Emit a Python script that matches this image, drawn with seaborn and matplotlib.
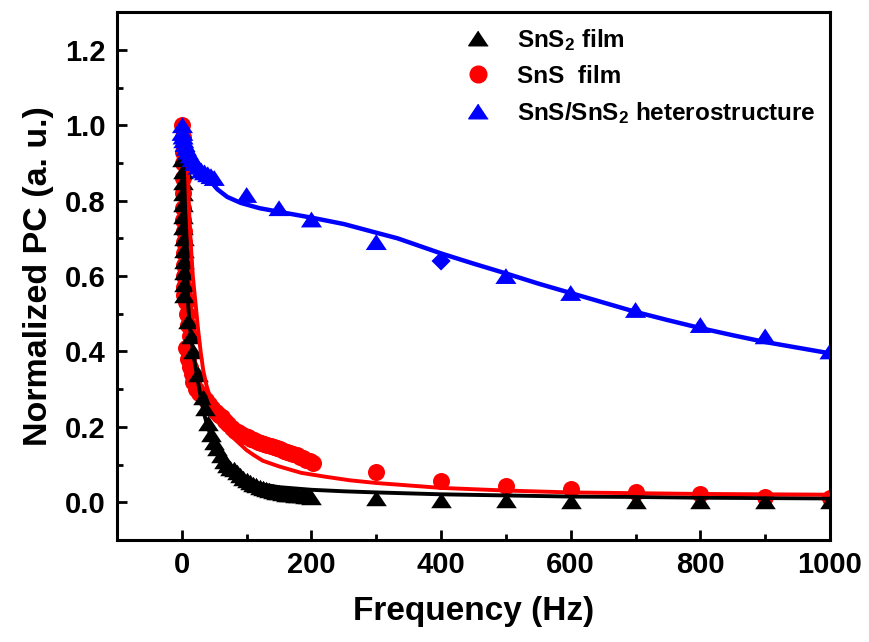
import matplotlib
matplotlib.use("Agg")
import matplotlib.pyplot as plt
import seaborn as sns
import pandas as pd
from matplotlib.lines import Line2D
from matplotlib.ticker import MultipleLocator

# ---------------- data ----------------
sns2_freq = [1.0, 1.25, 1.5, 1.75, 2.0, 2.25, 2.5, 2.75, 3.0, 3.25, 3.5, 3.75, 4.0,
             9, 14, 18, 25, 32, 35, 40, 45, 50, 55, 60, 65, 70, 75, 80, 85, 90, 95,
             100, 105, 110, 115, 120, 125, 130, 135, 140, 145, 150, 155, 160, 165,
             170, 175, 180, 185, 190, 195, 200,
             300, 400, 500, 600, 700, 800, 900, 1000]
sns2_val = [0.91, 0.88, 0.85, 0.82, 0.79, 0.76, 0.73, 0.70, 0.67, 0.64, 0.61, 0.58, 0.55,
            0.48, 0.44, 0.40, 0.34, 0.28, 0.25, 0.21, 0.18, 0.16, 0.145, 0.125, 0.11,
            0.10, 0.092, 0.088, 0.08, 0.072, 0.064,
            0.058, 0.053, 0.049, 0.045, 0.041, 0.038, 0.035, 0.032, 0.030, 0.028,
            0.026, 0.024, 0.023, 0.022, 0.021, 0.020, 0.019, 0.018, 0.017, 0.016, 0.015,
            0.010, 0.006, 0.005, 0.004, 0.003, 0.003, 0.002, 0.002]

sns_freq = [1.0, 1.2, 1.4, 1.6, 1.8, 2.0, 2.2, 2.4, 2.6, 2.8, 3.0, 3.2, 3.4, 3.6, 4.0,
            6, 8, 10, 12, 6, 9, 12, 15, 18, 22, 27, 32, 37, 42, 47, 52, 57, 62, 67,
            72, 77, 82, 87, 92, 97, 102, 107, 112, 117, 122, 127, 132, 137, 142, 147,
            152, 157, 162, 167, 172, 177, 182, 187, 192, 197, 202,
            300, 400, 500, 600, 700, 800, 900, 1000]
sns_val = [1.0, 0.97, 0.93, 0.90, 0.86, 0.82, 0.78, 0.75, 0.72, 0.69, 0.66, 0.63, 0.60, 0.57, 0.55,
           0.53, 0.50, 0.47, 0.44, 0.41, 0.38, 0.36, 0.34, 0.32, 0.30, 0.29, 0.28, 0.27, 0.26,
           0.25, 0.24, 0.232, 0.225, 0.216, 0.208, 0.198, 0.19, 0.185, 0.18, 0.176, 0.172,
           0.168, 0.164, 0.161, 0.158, 0.155, 0.152, 0.149, 0.146, 0.143, 0.140, 0.137,
           0.134, 0.131, 0.128, 0.125, 0.121, 0.117, 0.113, 0.109, 0.105,
           0.080, 0.057, 0.042, 0.034, 0.027, 0.021, 0.014, 0.012]

het_freq = [0.5, 1, 1.5, 2, 3, 5, 7, 10, 13, 16, 20, 25, 30, 35, 40, 45, 50,
            100, 150, 200, 300, 400, 500, 600, 700, 800, 900, 1000]
het_val = [0.98, 1.0, 0.98, 0.97, 0.96, 0.95, 0.94, 0.93, 0.92, 0.91, 0.90, 0.89, 0.88,
           0.875, 0.87, 0.865, 0.86, 0.815, 0.78, 0.75, 0.69, 0.64, 0.60, 0.555, 0.51,
           0.47, 0.44, 0.40]
het_shape = ["tri"] * 21 + ["dia"] + ["tri"] * 6

# fitted curves
fit_sns2_freq = [4, 5, 6, 7, 8, 9, 10, 12, 15, 18, 22, 26, 30, 35, 40, 45, 50, 60, 70, 80,
                 100, 125, 150, 200, 250, 300, 400, 500, 600, 700, 800, 900, 1000]
fit_sns2_val = [1.0, 0.9, 0.8, 0.72, 0.64, 0.57, 0.52, 0.47, 0.43, 0.39, 0.35, 0.31, 0.27,
                0.23, 0.20, 0.175, 0.155, 0.12, 0.095, 0.078, 0.058, 0.047, 0.040, 0.033,
                0.029, 0.026, 0.021, 0.018, 0.015, 0.014, 0.012, 0.011, 0.010]

fit_sns_freq = [7, 9, 11, 14, 17, 21, 25, 29, 33, 38, 45, 55, 65, 80, 100, 111, 125, 150,
                184, 220, 260, 300, 400, 500, 600, 700, 800, 900, 1000]
fit_sns_val = [1.0, 0.9, 0.78, 0.68, 0.60, 0.53, 0.46, 0.40, 0.35, 0.31, 0.27, 0.235, 0.205,
               0.17, 0.138, 0.125, 0.11, 0.095, 0.078, 0.068, 0.058, 0.051, 0.038, 0.031,
               0.026, 0.024, 0.022, 0.021, 0.020]

fit_het_freq = [0, 3, 6, 10, 15, 20, 30, 40, 55, 70, 91, 120, 158, 200, 250, 300, 333, 400,
                450, 500, 550, 600, 650, 700, 750, 800, 850, 900, 950, 1000]
fit_het_val = [1.0, 0.99, 0.97, 0.95, 0.93, 0.91, 0.88, 0.86, 0.83, 0.81, 0.794, 0.78,
               0.768, 0.755, 0.738, 0.715, 0.70, 0.66, 0.633, 0.607, 0.58, 0.555, 0.53,
               0.505, 0.483, 0.462, 0.443, 0.425, 0.41, 0.395]

labels = ["SnS$_{2}$ film", "SnS  film", "SnS/SnS$_{2}$ heterostructure"]
xticks = [0, 200, 400, 600, 800, 1000]
yticks = [0.0, 0.2, 0.4, 0.6, 0.8, 1.0, 1.2]

# ---------------- style ----------------
sns.set_theme(style="ticks")
plt.rcParams["font.family"] = ["Liberation Sans", "DejaVu Sans"]
plt.rcParams["font.weight"] = "bold"
plt.rcParams["text.color"] = "black"
plt.rcParams["axes.labelcolor"] = "black"
plt.rcParams["xtick.color"] = "black"
plt.rcParams["ytick.color"] = "black"
plt.rcParams["xtick.labelcolor"] = "black"
plt.rcParams["ytick.labelcolor"] = "black"
plt.rcParams["mathtext.fontset"] = "custom"
plt.rcParams["mathtext.rm"] = "Liberation Sans:bold"
plt.rcParams["mathtext.bf"] = "Liberation Sans:bold"
plt.rcParams["mathtext.it"] = "Liberation Sans:bold"
plt.rcParams["mathtext.default"] = "bf"

TRI = [(0, 0.75), (-1, -0.75), (1, -0.75)]

fig = plt.figure(figsize=(8.7, 6.42), dpi=100)
ax = fig.add_axes([0.1345, 0.159, 0.8195, 0.822])

df_red = pd.DataFrame({"f": sns_freq, "v": sns_val})
df_blk = pd.DataFrame({"f": sns2_freq, "v": sns2_val})
df_het = pd.DataFrame({"f": het_freq, "v": het_val, "shape": het_shape})

sns.scatterplot(data=df_red, x="f", y="v", ax=ax, color="#ff0000", marker="o",
                s=150, linewidth=0, legend=False, zorder=2)
sns.scatterplot(data=df_blk, x="f", y="v", ax=ax, color="black", marker=TRI,
                s=220, linewidth=0, legend=False, zorder=3)
sns.lineplot(x=fit_sns2_freq, y=fit_sns2_val, ax=ax, color="black", lw=2.8,
             legend=False, zorder=4)
sns.lineplot(x=fit_sns_freq, y=fit_sns_val, ax=ax, color="#ff0000", lw=2.8,
             legend=False, zorder=4)
sns.scatterplot(data=df_het, x="f", y="v", style="shape", markers={"tri": TRI, "dia": "D"},
                size="shape", sizes={"tri": 230, "dia": 95},
                ax=ax, color="#0000ff", linewidth=0, legend=False, zorder=5)
sns.lineplot(x=fit_het_freq, y=fit_het_val, ax=ax, color="#0000ff", lw=3.2,
             legend=False, zorder=6)

ax.set_xlim(-100, 1000)
ax.set_ylim(-0.1, 1.3)
ax.set_xticks(xticks)
ax.set_yticks(yticks)
ax.set_xticklabels([str(t) for t in xticks])
ax.set_yticklabels([f"{t:.1f}" for t in yticks])
ax.xaxis.set_minor_locator(MultipleLocator(100))
ax.yaxis.set_minor_locator(MultipleLocator(0.1))
ax.tick_params(which="both", direction="in", top=False, right=False, width=2.0,
               color="black", labelcolor="black", labelsize=21, pad=8)
ax.tick_params(which="major", length=7)
ax.tick_params(which="minor", length=4.5)
for lab in ax.get_xticklabels() + ax.get_yticklabels():
    lab.set_fontweight("bold")
for sp in ax.spines.values():
    sp.set_linewidth(2.2)
    sp.set_color("black")
ax.grid(False)

ax.set_xlabel("Frequency (Hz)", fontsize=24, fontweight="bold", labelpad=12, color="black")
ax.set_ylabel("Normalized PC (a. u.)", fontsize=24.5, fontweight="bold", labelpad=8,
              color="black")

handles = [
    Line2D([], [], marker=TRI, color="black", linestyle="none", markersize=14),
    Line2D([], [], marker="o", color="#ff0000", linestyle="none", markersize=12),
    Line2D([], [], marker=TRI, color="#0000ff", linestyle="none", markersize=14),
]
leg = ax.legend(handles, labels, loc="upper left", bbox_to_anchor=(0.465, 1.0),
                frameon=False, fontsize=17.5, handlelength=1.2, handletextpad=1.0,
                labelspacing=0.5, borderpad=0.1)
for t in leg.get_texts():
    t.set_fontweight("bold")
    t.set_color("black")

fig.savefig("out.png", dpi=100)
